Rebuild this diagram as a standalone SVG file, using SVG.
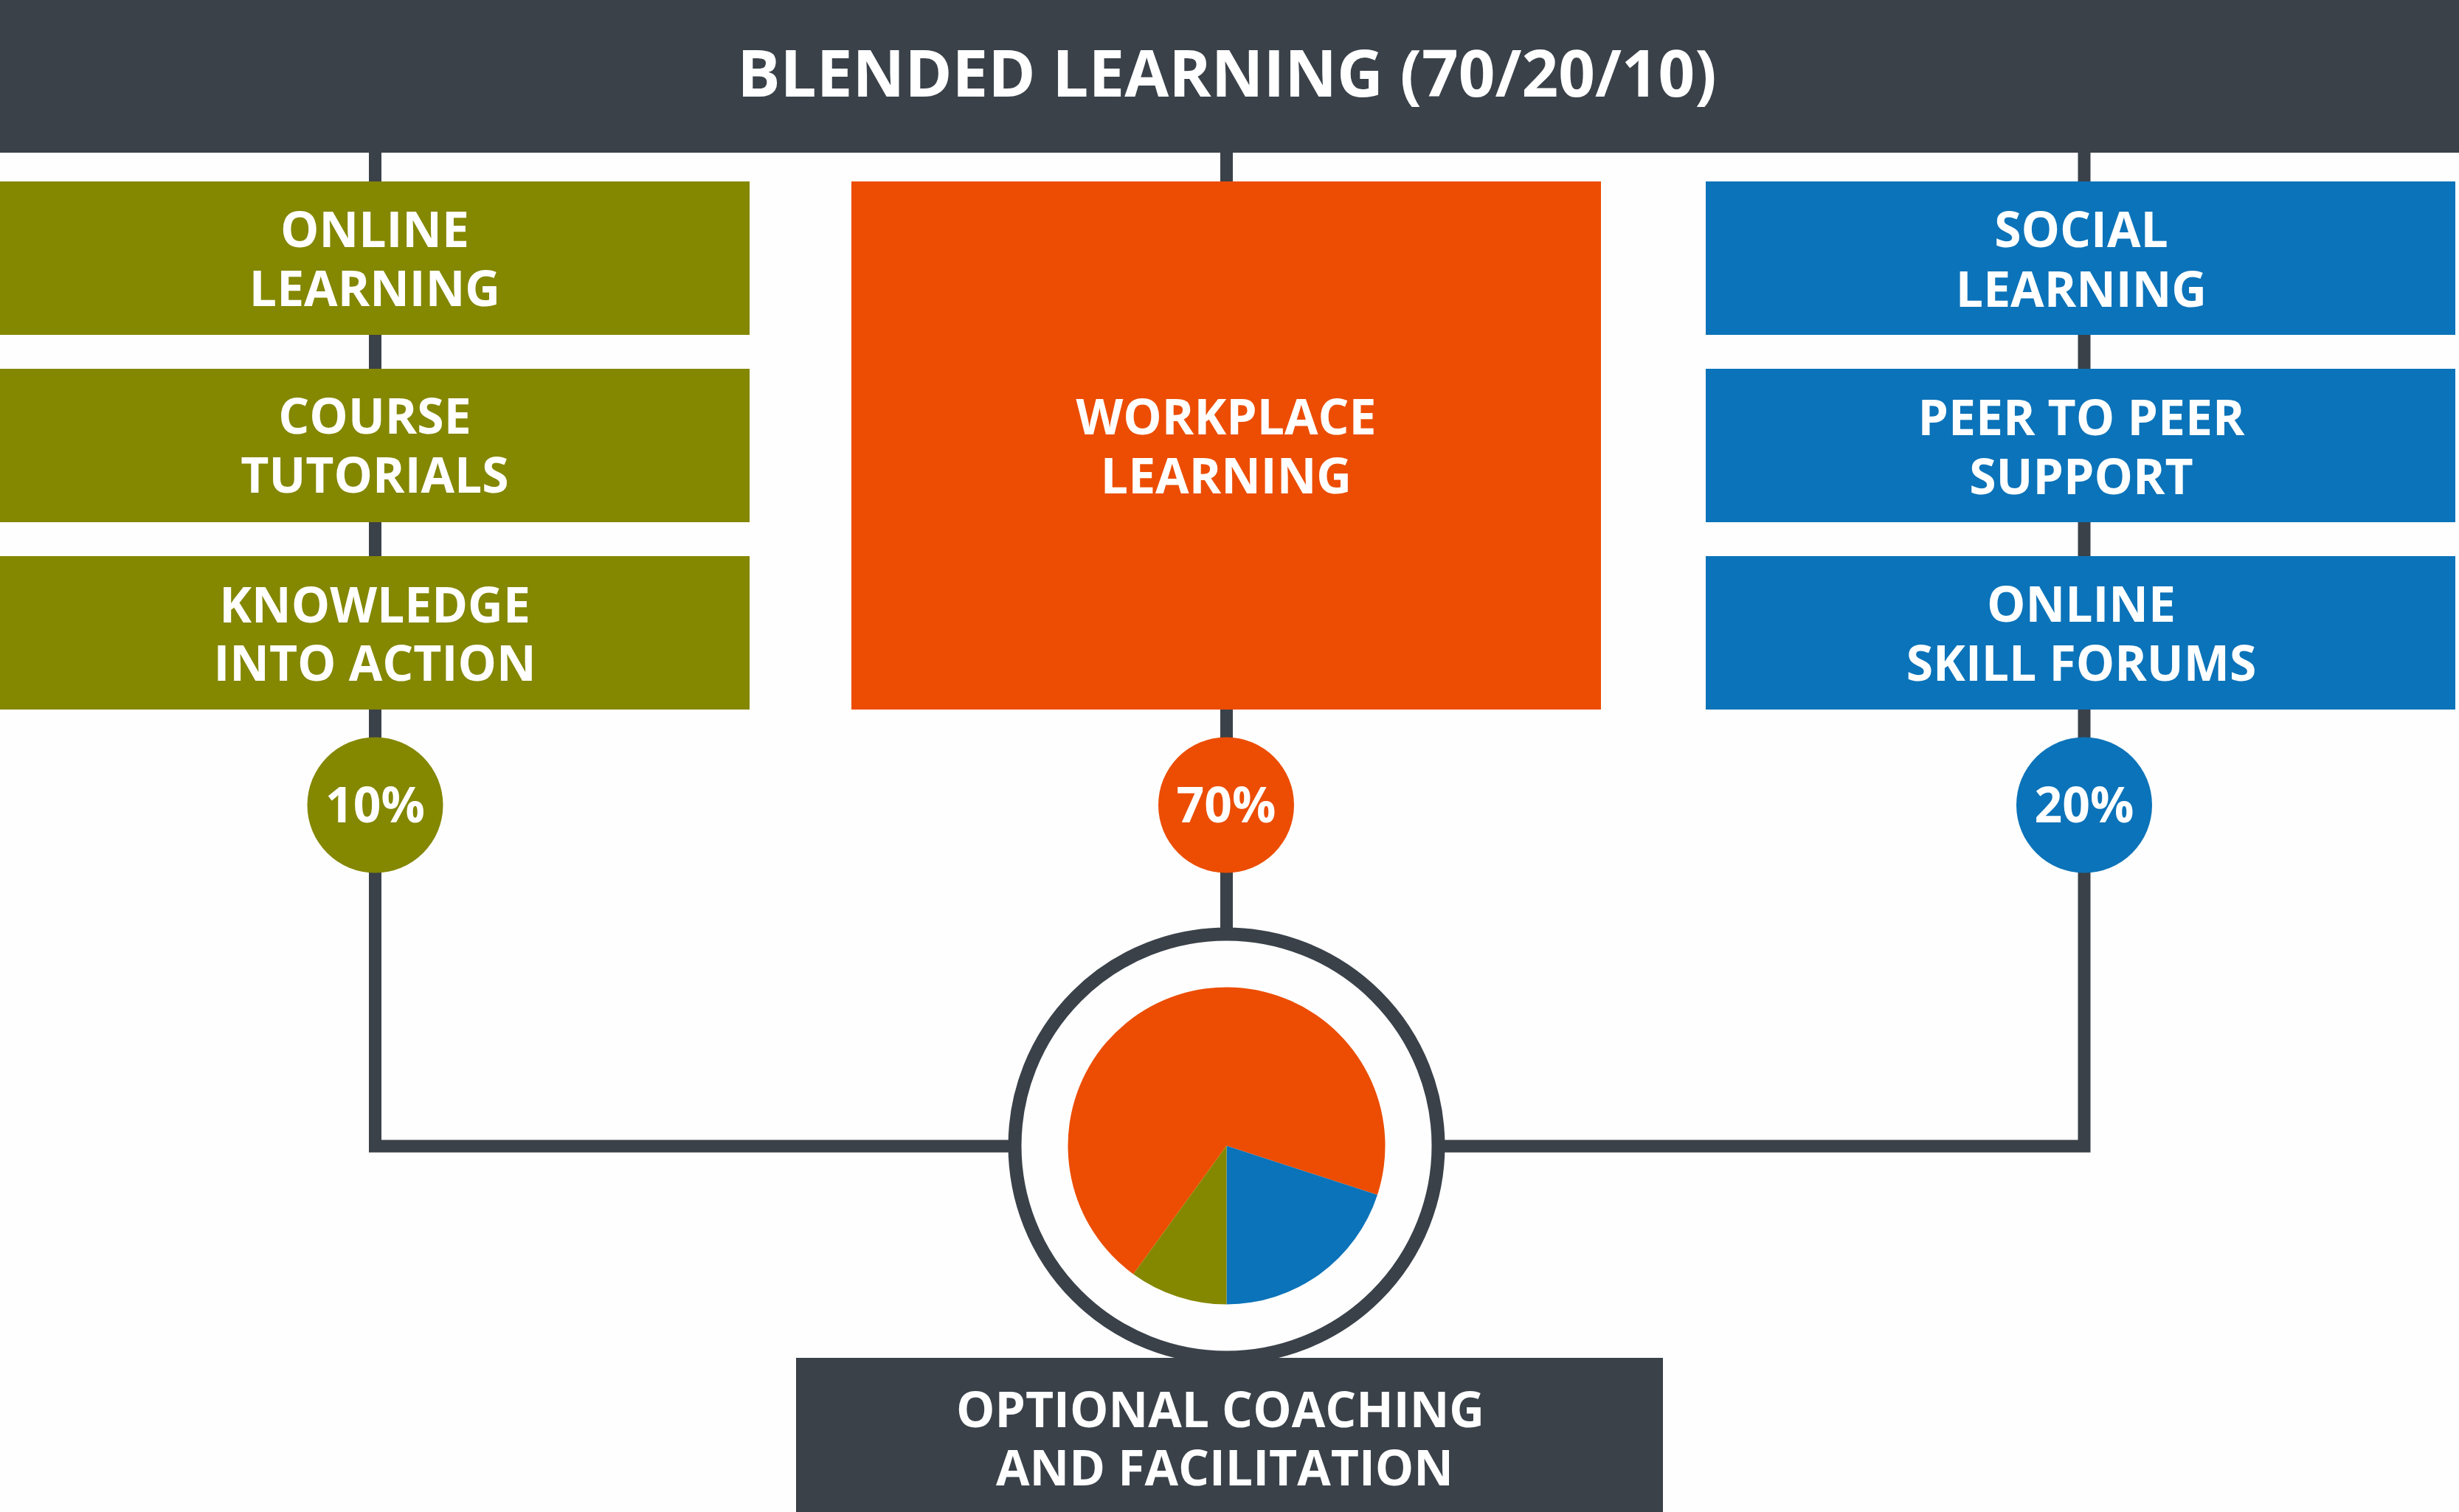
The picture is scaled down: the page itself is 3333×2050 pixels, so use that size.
<svg xmlns="http://www.w3.org/2000/svg" width="3333" height="2050" viewBox="0 0 3333 2050">
<style>
.dark{fill:#3a4149}
.olive{fill:#848700}
.orange{fill:#ec4d03}
.blue{fill:#0b73b9}
.t{font-family:"Open Sans","Liberation Sans",sans-serif;font-weight:bold;fill:#ffffff;text-anchor:middle}
.lbl{font-size:66px}
.pct{font-size:66px}
.title{font-size:87px}
.conn{fill:none;stroke:#3a4149;stroke-width:17;stroke-linejoin:miter}
</style>
<rect width="3333" height="2050" fill="#fefefe"/>
<g id="connectors">
<polyline class="conn" points="508.5,200 508.5,1554 1400,1554"/>
<polyline class="conn" points="2825,200 2825,1554 1920,1554"/>
<line class="conn" x1="1662.5" y1="200" x2="1662.5" y2="1300"/>
</g>
<g id="header">
<rect class="dark" x="0" y="0" width="3333" height="207"/>
<text class="t title" x="1663" y="131">BLENDED LEARNING (70/20/10)</text>
</g>
<g id="online-learning">
<rect class="olive" x="0" y="246" width="1016" height="208"/>
<text class="t lbl"><tspan x="508" y="335">ONLINE</tspan><tspan x="508" y="415">LEARNING</tspan></text>
</g>
<g id="course-tutorials">
<rect class="olive" x="0" y="500" width="1016" height="208"/>
<text class="t lbl"><tspan x="508" y="588">COURSE</tspan><tspan x="508" y="668">TUTORIALS</tspan></text>
</g>
<g id="knowledge-into-action">
<rect class="olive" x="0" y="754" width="1016" height="208"/>
<text class="t lbl"><tspan x="508" y="844">KNOWLEDGE</tspan><tspan x="508" y="923">INTO ACTION</tspan></text>
</g>
<g id="workplace-learning">
<rect class="orange" x="1154" y="246" width="1016" height="716"/>
<text class="t lbl"><tspan x="1662" y="589">WORKPLACE</tspan><tspan x="1662" y="669">LEARNING</tspan></text>
</g>
<g id="social-learning">
<rect class="blue" x="2312" y="246" width="1016" height="208"/>
<text class="t lbl"><tspan x="2821" y="335">SOCIAL</tspan><tspan x="2821" y="416">LEARNING</tspan></text>
</g>
<g id="peer-to-peer-support">
<rect class="blue" x="2312" y="500" width="1016" height="208"/>
<text class="t lbl"><tspan x="2821" y="590">PEER TO PEER</tspan><tspan x="2821" y="670">SUPPORT</tspan></text>
</g>
<g id="online-skill-forums">
<rect class="blue" x="2312" y="754" width="1016" height="208"/>
<text class="t lbl"><tspan x="2821" y="843">ONLINE</tspan><tspan x="2821" y="923">SKILL FORUMS</tspan></text>
</g>
<g id="pct-10">
<circle class="olive" cx="508.5" cy="1091.5" r="92"/>
<text class="t pct" x="508.5" y="1115">10%</text>
</g>
<g id="pct-70">
<circle class="orange" cx="1662" cy="1091.5" r="92"/>
<text class="t pct" x="1662" y="1115">70%</text>
</g>
<g id="pct-20">
<circle class="blue" cx="2825" cy="1091.5" r="92"/>
<text class="t pct" x="2825" y="1115">20%</text>
</g>
<g id="pie">
<circle cx="1662.5" cy="1553.5" r="287" fill="#fefefe" stroke="#3a4149" stroke-width="18"/>
<path class="orange" d="M1662.5,1553.5 L1536.1,1727.4 A215,215 0 1 1 1867,1619.9 Z"/>
<path class="blue" d="M1662.5,1553.5 L1867,1619.9 A215,215 0 0 1 1662.5,1768.5 Z"/>
<path class="olive" d="M1662.5,1553.5 L1662.5,1768.5 A215,215 0 0 1 1536.1,1727.4 Z"/>
</g>
<g id="optional-coaching">
<rect class="dark" x="1079" y="1841" width="1175" height="209"/>
<text class="t lbl"><tspan x="1654" y="1935">OPTIONAL COACHING</tspan><tspan x="1660" y="2014">AND FACILITATION</tspan></text>
</g>
</svg>
